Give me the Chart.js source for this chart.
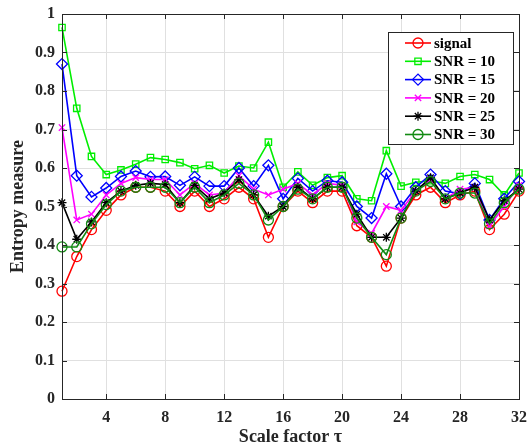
<!DOCTYPE html>
<html>
<head>
<meta charset="utf-8">
<script src="https://cdn.jsdelivr.net/npm/chart.js@4/dist/chart.umd.min.js"></script>
<style>
  html, body { margin: 0; padding: 0; background: #fff; }
</style>
</head>
<body>
<canvas id="chart" width="527" height="446"></canvas>
<script>
// scale factor tau = 1..32
const scales = [1,2,3,4,5,6,7,8,9,10,11,12,13,14,15,16,17,18,19,20,21,22,23,24,25,26,27,28,29,30,31,32];
const xTicks = [4, 8, 12, 16, 20, 24, 28, 32];
const yTicks = [0, 0.1, 0.2, 0.3, 0.4, 0.5, 0.6, 0.7, 0.8, 0.9, 1];

const seriesNames = ['signal', 'SNR = 10', 'SNR = 15', 'SNR = 20', 'SNR = 25', 'SNR = 30'];

const signal = [0.28,0.37,0.44,0.49,0.53,0.55,0.55,0.54,0.50,0.54,0.50,0.52,0.55,0.52,0.42,0.50,
                0.54,0.51,0.54,0.54,0.45,0.42,0.345,0.47,0.53,0.55,0.51,0.53,0.54,0.44,0.48,0.54];
const snr10 = [0.965,0.755,0.63,0.583,0.595,0.61,0.627,0.622,0.614,0.598,0.607,0.587,0.605,0.60,0.667,0.55,
               0.59,0.555,0.575,0.58,0.52,0.515,0.645,0.553,0.563,0.567,0.56,0.578,0.583,0.57,0.53,0.587];
const snr15 = [0.87,0.58,0.525,0.548,0.578,0.592,0.577,0.578,0.555,0.577,0.553,0.553,0.60,0.553,0.607,0.52,
               0.573,0.54,0.567,0.563,0.50,0.47,0.585,0.50,0.55,0.583,0.54,0.533,0.56,0.465,0.52,0.565];
const snr20 = [0.705,0.465,0.48,0.53,0.56,0.575,0.57,0.57,0.53,0.56,0.53,0.535,0.58,0.545,0.53,0.545,
               0.56,0.53,0.56,0.555,0.46,0.43,0.50,0.49,0.54,0.57,0.52,0.545,0.55,0.45,0.50,0.555];
const snr25 = [0.51,0.415,0.46,0.51,0.54,0.555,0.56,0.557,0.51,0.555,0.52,0.535,0.57,0.53,0.475,0.50,
               0.55,0.52,0.55,0.55,0.48,0.42,0.42,0.47,0.54,0.575,0.52,0.535,0.55,0.465,0.515,0.545];
const snr30 = [0.395,0.395,0.455,0.505,0.54,0.55,0.55,0.55,0.51,0.55,0.51,0.53,0.56,0.53,0.465,0.50,
               0.545,0.52,0.55,0.55,0.47,0.42,0.375,0.47,0.54,0.565,0.52,0.535,0.535,0.455,0.51,0.545];

const allSeries = [signal, snr10, snr15, snr20, snr25, snr30];
const colors = ['#ff0000', '#00ee00', '#0000ff', '#ff00ff', '#000000', '#128a12'];
const markers = ['circle', 'rect', 'rectRot', 'crossRot', 'star', 'circle'];
const markerSize = [5, 4.5, 5.5, 4.5, 4.5, 5];

const serif = '"Liberation Serif", "Times New Roman", serif';

const datasets = allSeries.map((vals, i) => ({
    label: seriesNames[i],
    data: vals.map((v, j) => ({ x: scales[j], y: v })),
    borderColor: colors[i],
    backgroundColor: 'rgba(0,0,0,0)',
    pointBorderColor: colors[i],
    pointBackgroundColor: 'rgba(0,0,0,0)',
    pointStyle: markers[i],
    pointRadius: markerSize[i],
    pointBorderWidth: 1.3,
    borderWidth: 1.6,
    tension: 0,
    clip: false,
    order: allSeries.length - i
}));

// box around the plot area, like MATLAB's "box on", with inward ticks
const boxPlugin = {
    id: 'box',
    afterDraw(chart) {
        const { ctx, chartArea: a } = chart;
        const xs = chart.scales.x, ys = chart.scales.y;
        ctx.save();
        ctx.strokeStyle = '#262626';
        ctx.lineWidth = 1;
        ctx.strokeRect(a.left + 0.5, a.top + 0.5, a.right - a.left, a.bottom - a.top);
        ctx.beginPath();
        xTicks.forEach(t => {
            const px = Math.round(xs.getPixelForValue(t)) + 0.5;
            ctx.moveTo(px, a.bottom); ctx.lineTo(px, a.bottom - 5);
            ctx.moveTo(px, a.top); ctx.lineTo(px, a.top + 5);
        });
        yTicks.forEach(t => {
            const py = Math.round(ys.getPixelForValue(t)) + 0.5;
            ctx.moveTo(a.left, py); ctx.lineTo(a.left + 5, py);
            ctx.moveTo(a.right, py); ctx.lineTo(a.right - 5, py);
        });
        ctx.stroke();
        ctx.restore();
    }
};

// legend drawn inside the axes, top right
const insideLegend = {
    id: 'insideLegend',
    afterDraw(chart) {
        const { ctx } = chart;
        const x0 = 388, y0 = 32, w = 125, h = 112;
        const rowH = 18.3;
        ctx.save();
        ctx.fillStyle = '#fff';
        ctx.fillRect(x0, y0, w, h);
        ctx.strokeStyle = '#262626';
        ctx.lineWidth = 1;
        ctx.strokeRect(x0 + 0.5, y0 + 0.5, w, h);
        ctx.font = 'bold 15px ' + serif;
        ctx.textBaseline = 'middle';
        chart.data.datasets.forEach((ds, i) => {
            const cy = y0 + 11 + i * rowH;
            ctx.strokeStyle = ds.borderColor;
            ctx.lineWidth = ds.borderWidth;
            ctx.beginPath();
            ctx.moveTo(405, cy); ctx.lineTo(431, cy);
            ctx.stroke();
            ctx.lineWidth = ds.pointBorderWidth;
            ctx.fillStyle = 'rgba(0,0,0,0)';
            Chart.helpers.drawPoint(ctx, {
                pointStyle: ds.pointStyle,
                radius: ds.pointRadius,
                borderWidth: ds.pointBorderWidth,
                rotation: 0
            }, 418, cy);
            ctx.fillStyle = '#000';
            ctx.fillText(ds.label, 434, cy + 1);
        });
        ctx.restore();
    }
};

new Chart(document.getElementById('chart').getContext('2d'), {
    type: 'line',
    data: { datasets },
    options: {
        responsive: false,
        animation: false,
        layout: { padding: { left: 4, right: 8, top: 14, bottom: 0 } },
        plugins: {
            legend: { display: false },
            tooltip: { enabled: false }
        },
        scales: {
            x: {
                type: 'linear',
                min: 1,
                max: 32,
                afterBuildTicks: s => { s.ticks = xTicks.map(v => ({ value: v })); },
                afterFit: s => { s.height = 47; s.paddingRight = 0; s.paddingLeft = 0; },
                grid: { color: '#e0e0e0', drawTicks: false },
                border: { display: false },
                ticks: {
                    color: '#262626',
                    padding: 9,
                    font: { family: serif, size: 16, weight: 'bold' }
                },
                title: {
                    display: true,
                    text: 'Scale factor τ',
                    color: '#262626',
                    padding: { top: 2, bottom: 0 },
                    font: { family: serif, size: 18, weight: 'bold', lineHeight: 1 }
                }
            },
            y: {
                min: 0,
                max: 1,
                afterBuildTicks: s => { s.ticks = yTicks.map(v => ({ value: v })); },
                afterFit: s => { s.width = 58; s.paddingTop = 0; s.paddingBottom = 0; },
                grid: { color: '#e0e0e0', drawTicks: false },
                border: { display: false },
                ticks: {
                    color: '#262626',
                    padding: 7,
                    font: { family: serif, size: 16, weight: 'bold' },
                    callback: v => String(Math.round(v * 10) / 10)
                },
                title: {
                    display: true,
                    text: 'Entropy measure',
                    color: '#262626',
                    padding: { bottom: 2 },
                    font: { family: serif, size: 18, weight: 'bold' }
                }
            }
        }
    },
    plugins: [boxPlugin, insideLegend]
});
</script>
</body>
</html>
